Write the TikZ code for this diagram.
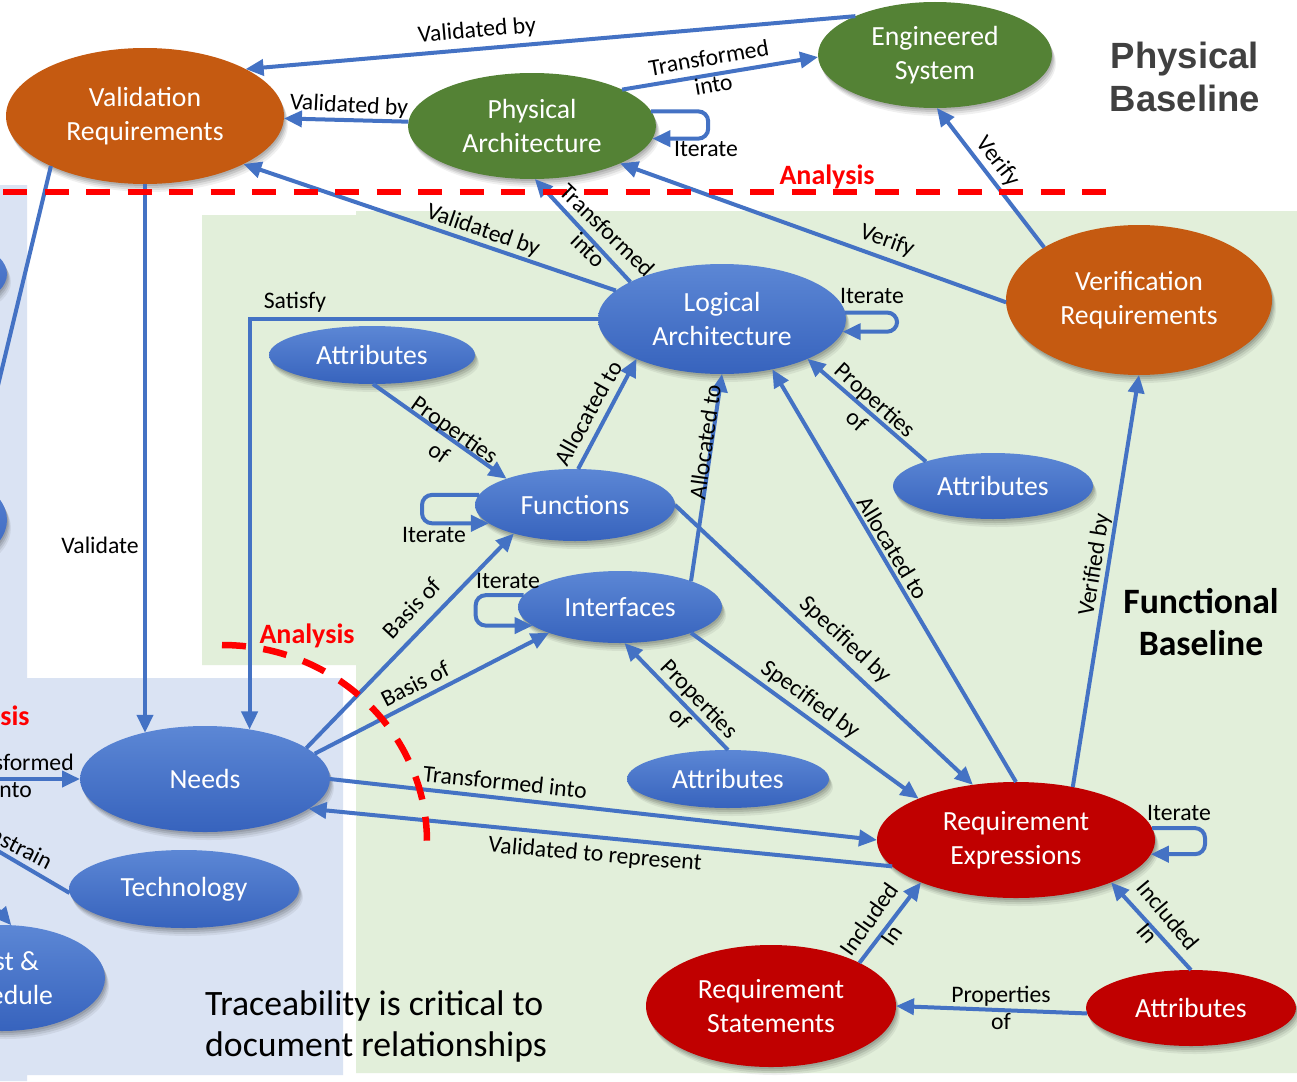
\documentclass[tikz,border=0pt]{standalone}
\usepackage{fontspec}
\setmainfont{Carlito}
\newfontfamily\headfont{Liberation Sans}
\usetikzlibrary{shapes.geometric,arrows.meta,shadows,calc}

\definecolor{edgeblue}{HTML}{4472C4}
\definecolor{nodeblueT}{HTML}{5C87D5}
\definecolor{nodeblueB}{HTML}{3763BD}
\definecolor{reqorange}{HTML}{C55A11}
\definecolor{physgreen}{HTML}{548235}
\definecolor{reqred}{HTML}{C00000}
\definecolor{bgblue}{HTML}{DAE3F3}
\definecolor{bggreen}{HTML}{E2EFDA}
\definecolor{headgray}{HTML}{404040}
\definecolor{anared}{HTML}{FF0000}

\tikzset{
  softshadow/.style={
    general shadow={shadow xshift=1pt, shadow yshift=-2pt, fill=black, opacity=.10},
    general shadow={shadow xshift=2pt, shadow yshift=-4pt, fill=black, opacity=.10},
    general shadow={shadow xshift=3pt, shadow yshift=-6pt, fill=black, opacity=.08},
    general shadow={shadow xshift=4pt, shadow yshift=-8pt, fill=black, opacity=.06}},
  ell/.style={ellipse, inner sep=0pt, outer sep=0pt, align=center, text=white,
    font=\fontsize{27.7}{34}\selectfont, softshadow},
  bluenode/.style={ell, top color=nodeblueT, bottom color=nodeblueB},
  orangenode/.style={ell, fill=reqorange},
  greennode/.style={ell, fill=physgreen},
  rednode/.style={ell, fill=reqred},
  conn/.style={draw=edgeblue, line width=4pt},
  arr/.style={conn, -{Triangle[length=18pt,width=16pt]}},
  lbl/.style={font=\fontsize{23.7}{27.5}\selectfont, align=center, inner sep=0pt, text=black},
  ana/.style={font=\bfseries\fontsize{28}{32}\selectfont, text=anared, inner sep=0pt},
  reddash/.style={draw=anared, line width=6.5pt, dash pattern=on 24pt off 17.5pt},
}

\begin{document}
\begin{tikzpicture}[x=1pt, y=-1pt]
\useasboundingbox (0,0) rectangle (1297,1081);
\clip (0,0) rectangle (1297,1081);

% background panels
\fill[white] (0,0) rectangle (1297,1081);
\fill[bgblue] (0,185) -- (27,185) -- (27,678) -- (343,678) -- (343,1075)
  -- (27,1075) -- (27,1081) -- (0,1081) -- cycle;
\fill[bggreen] (202,215) -- (356,215) -- (356,211) -- (1297,211) -- (1297,1073)
  -- (356,1073) -- (356,665) -- (202,665) -- cycle;

% nodes
\node[orangenode, minimum width=278pt, minimum height=136pt] (vr) at (145,116) {Validation\\Requirements};
\node[greennode, minimum width=248pt, minimum height=106pt] (pa) at (532,126) {Physical\\Architecture};
\node[greennode, minimum width=234pt, minimum height=106pt] (es) at (935,55) {Engineered\\System};
\node[bluenode, minimum width=248pt, minimum height=110pt] (la) at (722,319) {Logical\\Architecture};
\node[orangenode, minimum width=266pt, minimum height=150pt] (ver) at (1139,300) {Verification\\Requirements};
\node[bluenode, minimum width=206pt, minimum height=58pt] (at1) at (372,355) {Attributes};
\node[bluenode, minimum width=200pt, minimum height=72pt] (fn) at (575,505) {Functions};
\node[bluenode, minimum width=200pt, minimum height=66pt] (at2) at (993,486) {Attributes};
\node[bluenode, minimum width=204pt, minimum height=72pt] (ifc) at (620,607) {Interfaces};
\node[bluenode, minimum width=250pt, minimum height=106pt] (nd) at (205,779) {Needs};
\node[bluenode, minimum width=230pt, minimum height=78pt] (tech) at (184,889) {Technology};
\node[bluenode, minimum width=202pt, minimum height=58pt] (at3) at (728,779) {Attributes};
\node[rednode, minimum width=278pt, minimum height=116pt] (re) at (1016,840) {Requirement\\Expressions};
\node[rednode, minimum width=250pt, minimum height=122pt] (rs) at (771,1006) {Requirement\\Statements};
\node[rednode, minimum width=210pt, minimum height=76pt] (at4) at (1191,1008) {Attributes};
\node[bluenode, minimum width=206pt, minimum height=106pt] (cs) at (2,978) {Cost \&\\Schedule};
\node[bluenode, minimum width=200pt, minimum height=86pt] (hid1) at (-93,274) {};
\node[bluenode, minimum width=200pt, minimum height=110pt] (hid2) at (-93,520) {};

% connectors
\draw[arr] (es.154) -- (vr.25);
\draw[arr] (pa.178) -- (vr.-1);
\draw[arr] (pa.22) -- (es.181);
\draw[arr, rounded corners=10pt] (pa.7) -- ++(57,0) |- (pa.-6);
\draw[arr] (la.158) -- (pa.-87);
\draw[arr] (la.165) -- (vr.-26);
\draw[arr] (ver.181) -- (pa.-23);
\draw[arr] (ver.151) -- (es.-88);
\draw[arr] (vr.south) -- (vr.south |- nd.143);
\draw[arr] (la.west) -| (nd.48);
\draw[arr, rounded corners=10pt] (la.3) -- ++(52,0) |- (la.-6);
\draw[arr] (at1.-88) -- (fn.159);
\draw[arr] (fn.85) -- (la.205);
\draw[arr, rounded corners=10pt] (fn.174) -- ++(-57,0) |- (fn.192);
\draw[arr] (ifc.20) -- (la.south);
\draw[arr] (at2.160) -- (la.-25);
\draw[arr] (re.north) -- (la.-45);
\draw[arr, rounded corners=10pt] (ifc.173) -- ++(-48,0) |- (ifc.192);
\draw[arr] (nd.17) -- (fn.205);
\draw[arr] (nd.13) -- (ifc.200);
\draw[arr] (fn.east) -- (re.128);
\draw[arr] (ifc.-20) -- (re.157);
\draw[arr] (at3.north) -- (ifc.-83);
\draw[arr] (nd.east) -- (re.west);
\draw[arr] (re.192) -- (nd.-16);
\draw[arr] (re.43) -- (ver.south);
\draw[arr, rounded corners=10pt] (re.5) -- ++(53,0) |- (re.-6);
\draw[arr] (rs.26) -- (re.204);
\draw[arr] (at4.north) -- (re.-24);
\draw[arr] (at4.183) -- (rs.east);

% connectors leaving the left edge
\coordinate (offA) at (-20,460);
\coordinate (offB) at (-40,779);
\coordinate (offC) at (-60,817);
\coordinate (offD) at (-45,860);
\draw[conn] (vr.208) -- (offA);
\draw[arr] (offB) -- (nd.west);
\draw[conn] (tech.182) -- (offC);
\draw[arr] (offD) -- (cs.80);

% analysis boundaries
\draw[reddash] (3,192) -- (1110,192);
\draw[reddash] (222,645) arc[start angle=-90, end angle=0, x radius=205, y radius=197];

% connector labels
\node[lbl, rotate=5] (l1) at (477,31) {Validated by};
\node[lbl, rotate=-3] (l2) at (349,106) {Validated by};
\node[lbl, rotate=10] (l3) at (711,71) {Transformed\\into};
\node[lbl] (l4) at (706,149) {Iterate};
\node[lbl, rotate=-44] (l5) at (598,240) {Transformed\\into};
\node[lbl, rotate=-19] (l6) at (483,231) {Validated by};
\node[lbl, rotate=-20] (l7) at (887,241) {Verify};
\node[lbl, rotate=-52] (l8) at (998,162) {Verify};
\node[lbl] (l9) at (100,545) {Validate};
\node[lbl] (l10) at (295,302) {Satisfy};
\node[lbl] (l11) at (872,296) {Iterate};
\node[lbl, rotate=-35] (l12) at (447,441) {Properties\\of};
\node[lbl, rotate=61] (l13) at (588,413) {Allocated to};
\node[lbl] (l14) at (434,535) {Iterate};
\node[lbl, rotate=82] (l15) at (705,442) {Allocated to};
\node[lbl, rotate=-42] (l16) at (866,410) {Properties\\of};
\node[lbl, rotate=-59] (l17) at (893,548) {Allocated to};
\node[lbl] (l18) at (508,581) {Iterate};
\node[lbl, rotate=47] (l19) at (412,608) {Basis of};
\node[lbl, rotate=27] (l20) at (415,684) {Basis of};
\node[lbl, rotate=-43] (l21) at (845,640) {Specified by};
\node[lbl, rotate=-36] (l22) at (810,700) {Specified by};
\node[lbl, rotate=-46] (l23) at (690,708) {Properties\\of};
\node[lbl, rotate=-6] (l24) at (505,782) {Transformed into};
\node[lbl, rotate=-5] (l25) at (595,855) {Validated to represent};
\node[lbl, rotate=81] (l26) at (1095,565) {Verified by};
\node[lbl] (l27) at (1179,813) {Iterate};
\node[lbl, rotate=55] (l28) at (880,927) {Included\\In};
\node[lbl, rotate=-50] (l29) at (1158,924) {Included\\In};
\node[lbl] (l30) at (1001,1008) {Properties\\of};
\node[lbl] (l31) at (13,776) {Transformed\\into};
\node[lbl, rotate=-27] (l32) at (10,842) {Constrain};

% analysis tags
\node[ana] (an1) at (827,177) {Analysis};
\node[ana] (an2) at (307,636) {Analysis};
\node[ana] (an3) at (-18,718) {Analysis};

% baseline headings
\node[font=\headfont\bfseries\fontsize{36.5}{43}\selectfont, text=headgray, align=center, inner sep=0pt] (phb) at (1185,77) {Physical\\Baseline};
\node[font=\bfseries\fontsize{35.7}{42}\selectfont, align=center, inner sep=0pt] (fnb) at (1201,622) {Functional\\Baseline};

% note
\node[font=\fontsize{35.7}{41}\selectfont, anchor=base west, inner sep=0pt] (tr1) at (205,1015) {Traceability is critical to};
\node[font=\fontsize{35.7}{41}\selectfont, anchor=base west, inner sep=0pt] (tr2) at (205,1056) {document relationships};
\end{tikzpicture}
\end{document}
